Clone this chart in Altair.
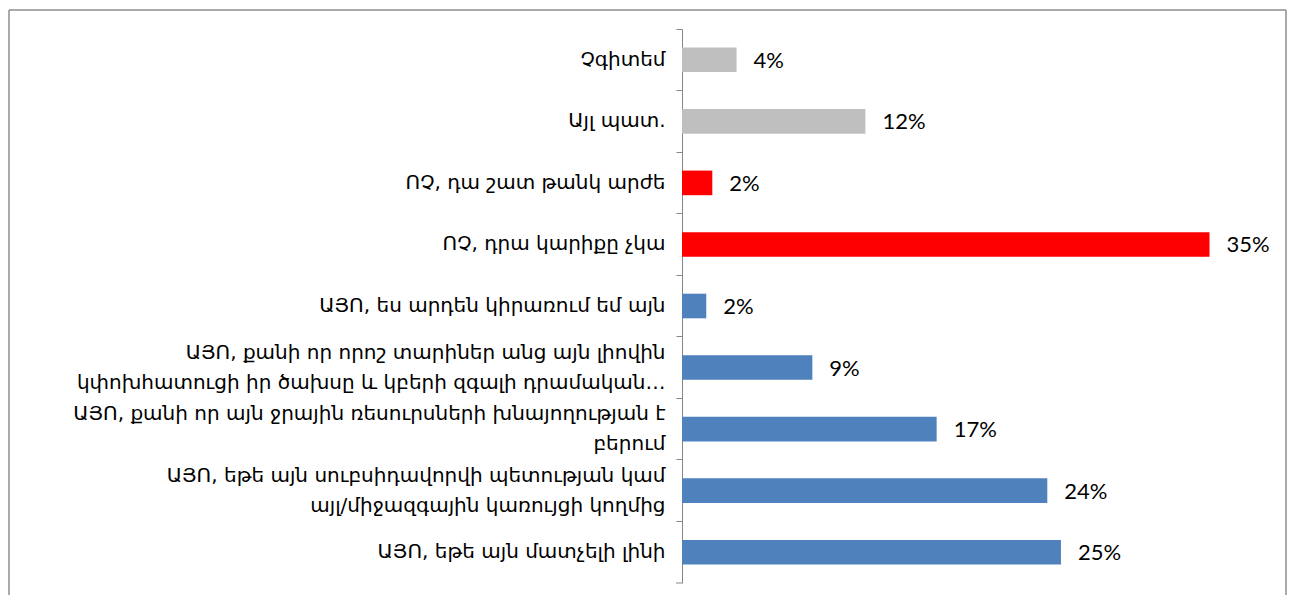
import altair as alt
import pandas as pd

categories = [
    "Չգիտեմ",
    "Այլ պատ.",
    "ՈՉ, դա շատ թանկ արժե",
    "ՈՉ, դրա կարիքը չկա",
    "ԱՅՈ, ես արդեն կիրառում եմ այն",
    "ԱՅՈ, քանի որ որոշ տարիներ անց այն լիովին|կփոխհատուցի իր ծախսը և կբերի զգալի դրամական…",
    "ԱՅՈ, քանի որ այն ջրային ռեսուրսների խնայողության է|բերում",
    "ԱՅՈ, եթե այն սուբսիդավորվի պետության կամ|այլ/միջազգային կառույցի կողմից",
    "ԱՅՈ, եթե այն մատչելի լինի",
]
values = [3.6, 12.1, 2.0, 34.8, 1.6, 8.6, 16.8, 24.1, 25.0]
labels = ["4%", "12%", "2%", "35%", "2%", "9%", "17%", "24%", "25%"]
groups = ["gray", "gray", "red", "red", "blue", "blue", "blue", "blue", "blue"]

group_domain = ["gray", "red", "blue"]
group_colors = ["#BFBFBF", "#FF0000", "#4F81BD"]

df = pd.DataFrame({"cat": categories, "value": values, "label": labels, "group": groups})

W, H = 576, 554
LINE_H = 30

y_enc = alt.Y(
    "cat:N",
    sort=categories,
    scale=alt.Scale(paddingInner=0, paddingOuter=0),
    axis=alt.Axis(
        title=None,
        bandPosition=0,
        tickSize=6,
        tickColor="#868686",
        domainColor="#868686",
        labelPadding=11,
        labelFont="DejaVu Sans",
        labelFontSize=20,
        labelColor="#000000",
        labelLimit=700,
        labelLineHeight=LINE_H,
        labelOffset={
            "condition": {"test": "indexof(datum.value, '|') >= 0", "value": -LINE_H / 2},
            "value": 0,
        },
        labelExpr="split(datum.label, '|')",
    ),
)
x_enc = alt.X("value:Q", scale=alt.Scale(domain=[0, 38]), axis=None)

base = alt.Chart(df)

bars = base.mark_bar(height=alt.RelativeBandSize(0.4)).encode(
    x=x_enc,
    y=y_enc,
    color=alt.Color("group:N", scale=alt.Scale(domain=group_domain, range=group_colors), legend=None),
)

texts = base.mark_text(align="left", baseline="middle", dx=17, dy=1, font="Lato", fontSize=22, color="black").encode(
    x=x_enc, y=alt.Y("cat:N", sort=categories), text="label:N"
)

one = alt.Data(values=[{"a": 1}])
bottom_tick = alt.Chart(one).mark_rule(color="#868686").encode(
    x=alt.value(-6), x2=alt.value(0), y=alt.value(H)
)
frame_top = alt.Chart(one).mark_rule(color="#8E8E8E", strokeWidth=1.5).encode(
    x=alt.value(-673), x2=alt.value(604), y=alt.value(-19)
)
frame_left = alt.Chart(one).mark_rule(color="#8E8E8E", strokeWidth=1.5).encode(
    x=alt.value(-673), y=alt.value(-19), y2=alt.value(H + 12)
)
frame_right = alt.Chart(one).mark_rule(color="#8E8E8E", strokeWidth=1.5).encode(
    x=alt.value(604), y=alt.value(-19), y2=alt.value(H + 12)
)

chart = (
    alt.layer(bars, texts, bottom_tick, frame_top, frame_left, frame_right)
    .properties(
        width=W,
        height=H,
        autosize=alt.AutoSizeParams(type="none"),
        padding={"left": 674, "top": 21, "right": 29, "bottom": 12},
    )
    .configure_view(stroke=None)
)

chart.save("out.html", embed_options={"renderer": "svg", "actions": False})
